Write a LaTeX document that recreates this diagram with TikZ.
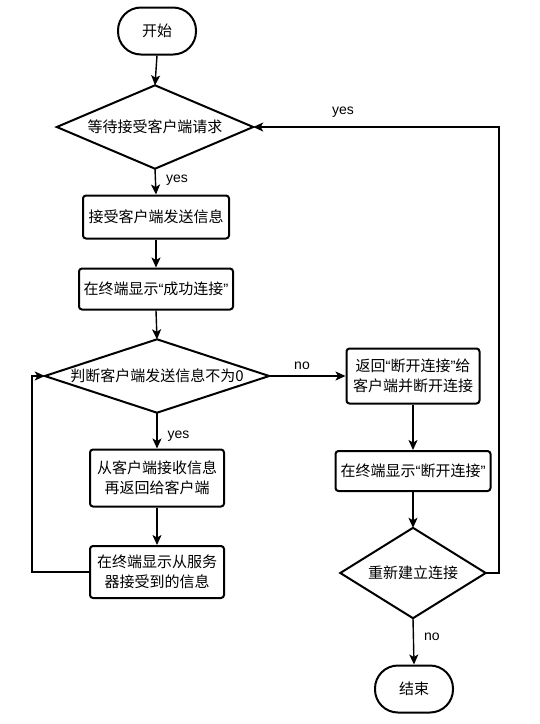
\documentclass[tikz,border=0pt]{standalone}
\usepackage{fontspec}
\setmainfont{Liberation Sans}
\newfontfamily\cjk{Noto Sans CJK SC}
\newfontfamily\latinq{Liberation Sans}
\newcommand\oq{{\latinq “}}
\newcommand\cq{{\latinq ”}}
\usetikzlibrary{arrows.meta}
\tikzset{
  base/.style={font=\cjk\fontsize{15}{20}\selectfont, align=center, inner sep=0pt},
  term/.style={base, draw, line width=2pt, rounded corners=23pt, minimum width=78pt, minimum height=47pt},
  proc/.style={base, draw, line width=2pt, rounded corners=3pt},
  dec/.style={base, minimum width=#1},
  dshape/.style={draw, line width=2pt},
  arr/.style={line width=1.4pt, -{Stealth[length=10pt,width=9pt,inset=2.5pt]}},
  lab/.style={font=\fontsize{14}{16}\selectfont, inner sep=0pt}
}
\begin{document}
\begin{tikzpicture}[x=1pt,y=-1pt]
\useasboundingbox (0,0) rectangle (540,724);
\node[term] (start) at (157,31) {开始};
\node[dec=196pt, minimum height=83pt] (d1) at (155,127) {等待接受客户端请求};
\draw[dshape] (d1.north) -- (d1.east) -- (d1.south) -- (d1.west) -- cycle;
\node[proc, minimum width=146pt, minimum height=43pt] (b1) at (156,217) {接受客户端发送信息};
\node[proc, minimum width=154pt, minimum height=41pt] (b2) at (156,289) {在终端显示\oq 成功连接\cq};
\node[dec=224pt, minimum height=73pt] (d2) at (157,376) {判断客户端发送信息不为0};
\draw[dshape] (d2.north) -- (d2.east) -- (d2.south) -- (d2.west) -- cycle;
\node[proc, minimum width=134pt, minimum height=57pt] (b3) at (157,478) {从客户端接收信息\\再返回给客户端};
\node[proc, minimum width=134pt, minimum height=52pt] (b4) at (157,572) {在终端显示从服务\\器接受到的信息};
\node[proc, minimum width=133pt, minimum height=55pt] (b5) at (413,376) {返回\oq 断开连接\cq 给\\客户端并断开连接};
\node[proc, minimum width=155pt, minimum height=40pt] (b6) at (413,471) {在终端显示\oq 断开连接\cq};
\node[dec=145pt, minimum height=90pt] (d3) at (413,573) {重新建立连接};
\draw[dshape] (d3.north) -- (d3.east) -- (d3.south) -- (d3.west) -- cycle;
\node[term] (end) at (414,689) {结束};
\coordinate (L) at (32,0);
\coordinate (R) at (499,0);

\draw[arr] (start.south) -- (d1.north);
\draw[arr] (d1.south) -- node[lab, right, xshift=10pt, pos=0.45] {yes} (b1.north);
\draw[arr] (b1.south) -- (b2.north);
\draw[arr] (b2.south) -- (d2.north);
\draw[arr] (d2.south) -- node[lab, right, xshift=10pt, pos=0.65] {yes} (b3.north);
\draw[arr] (b3.south) -- (b4.north);
\draw[arr] (b4.west) -- (b4.west -| L) |- (d2.west);
\draw[arr] (d2.east) -- node[lab, above, yshift=6pt, pos=0.43] {no} (b5.west);
\draw[arr] (b5.south) -- (b6.north);
\draw[arr] (b6.south) -- (d3.north);
\draw[arr] (d3.south) -- node[lab, right, xshift=10pt, pos=0.4] {no} (end.north);
\draw[arr] (d3.east) -- (d3.east -| R) |- (d1.east);
\node[lab] (yeslab) at (343,112) {yes};
\end{tikzpicture}
\end{document}
